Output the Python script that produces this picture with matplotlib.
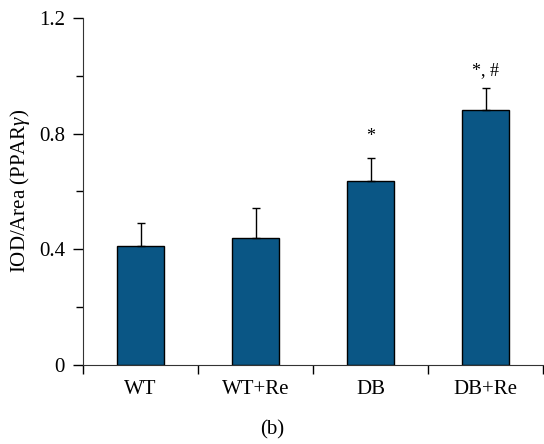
import numpy as np
import matplotlib
matplotlib.use("Agg")
import matplotlib.pyplot as plt
from matplotlib.ticker import MultipleLocator

plt.rcParams['font.family'] = ['Liberation Serif', 'DejaVu Serif']
plt.rcParams['mathtext.fontset'] = 'custom'
plt.rcParams['mathtext.it'] = 'Liberation Serif:italic'
plt.rcParams['mathtext.rm'] = 'Liberation Serif'

groups = ["WT", "WT+Re", "DB", "DB+Re"]
means = [0.41, 0.439, 0.637, 0.883]
err_up = [0.081, 0.104, 0.080, 0.074]
marks = ["", "", "*", "*, #"]
mark_y = [0, 0, 0.79, 1.02]

fig = plt.figure(figsize=(5.44, 4.44), dpi=100)
ax = fig.add_axes([0.1526, 0.1786, 0.846, 0.7802])

x = np.arange(len(groups))
ax.bar(x, means, width=0.405, color='#0a5685', edgecolor='black', linewidth=1.0)
ax.errorbar(x, means, yerr=[np.zeros(len(means)), err_up], fmt='none',
            ecolor='black', elinewidth=1.0, capsize=3, capthick=1.0)

for xi, m, my in zip(x, marks, mark_y):
    if m:
        ax.text(xi, my, m, ha='center', va='center', fontsize=13)

ax.set_xlim(-0.5, 3.5)
ax.set_ylim(0, 1.2)
ax.spines['top'].set_visible(False)
ax.spines['right'].set_visible(False)
ax.spines['left'].set_color('#333333')
ax.spines['bottom'].set_color('#333333')

ax.set_yticks([0, 0.4, 0.8, 1.2])
ax.set_yticklabels(["0", "0.4", "0.8", "1.2"])
ax.yaxis.set_minor_locator(MultipleLocator(0.2))
ax.tick_params(axis='y', which='major', length=7, width=1, labelsize=15, pad=6)
ax.tick_params(axis='y', which='minor', length=5, width=1)

# category labels centred, ticks between categories
ax.set_xticks(np.arange(-0.5, 4, 1.0))
ax.set_xticklabels([])
ax.set_xticks(x, minor=True)
ax.set_xticklabels(groups, minor=True)
ax.tick_params(axis='x', which='major', length=6.5, width=1)
ax.tick_params(axis='x', which='minor', length=0, labelsize=15, pad=11)

fig.text(0.036, 0.569, "IOD/Area (PPAR$\\mathit{\\gamma}$)", rotation=90,
         ha='center', va='center', fontsize=15)
fig.text(0.5, 0.032, "(b)", ha='center', va='center', fontsize=15)

fig.savefig("out.png", dpi=100)
